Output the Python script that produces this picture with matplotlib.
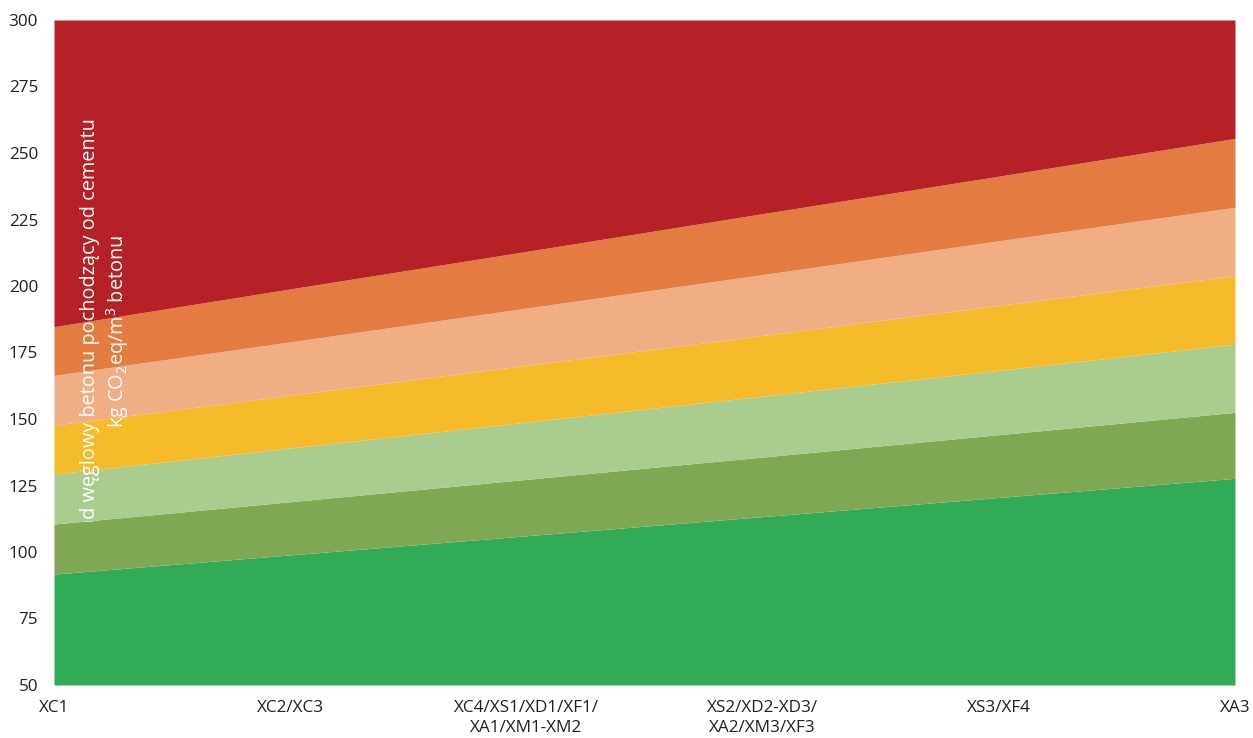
import matplotlib
matplotlib.use("Agg")
import matplotlib.pyplot as plt
from matplotlib.transforms import Bbox

plt.rcParams['font.family'] = ['Open Sans', 'DejaVu Sans']
plt.rcParams['mathtext.fontset'] = 'custom'
plt.rcParams['mathtext.rm'] = 'Open Sans'
plt.rcParams['mathtext.it'] = 'Open Sans'

categories = ["XC1", "XC2/XC3", "XC4/XS1/XD1/XF1/\nXA1/XM1-XM2",
              "XS2/XD2-XD3/\nXA2/XM3/XF3", "XS3/XF4", "XA3"]

# upper boundary of each band (kg CO2eq/m3)
band_green      = [91.7, 98.9, 106.1, 113.3, 120.5, 127.7]
band_darkgreen  = [110.5, 118.9, 127.3, 135.7, 144.1, 152.5]
band_lightgreen = [129.3, 139.1, 148.8, 158.6, 168.3, 178.1]
band_yellow     = [147.7, 158.9, 170.2, 181.4, 192.7, 203.9]
band_lightorange = [166.4, 179.0, 191.7, 204.3, 217.0, 229.6]
band_orange     = [184.7, 198.9, 213.0, 227.2, 241.3, 255.5]
band_red        = [300, 300, 300, 300, 300, 300]

y_min, y_max = 50, 300
y_ticks = [50, 75, 100, 125, 150, 175, 200, 225, 250, 275, 300]

colors = ["#32AB57", "#7EA853", "#AACD8F", "#F5BB2A", "#EFAE84", "#E37C40", "#B52127"]
bands = [band_green, band_darkgreen, band_lightgreen, band_yellow,
         band_lightorange, band_orange, band_red]

fig = plt.figure(figsize=(12.53, 7.38), dpi=100)
ax = fig.add_axes([54/1253, 53/738, 1181/1253, 665/738])

x = list(range(len(categories)))
lower = [y_min] * len(x)
for top, c in zip(bands, colors):
    ax.fill_between(x, lower, top, color=c, linewidth=0)
    lower = top

ax.set_xlim(0, len(x) - 1)
ax.set_ylim(y_min, y_max)
ax.set_xticks(x)
ax.set_xticklabels(categories, fontsize=12.3, color="#231F20", linespacing=1.3)
ax.set_yticks(y_ticks)
ax.set_yticklabels([str(t) for t in y_ticks], fontsize=12.3, color="#231F20")
ax.tick_params(length=0, pad=11.5, axis='y')
ax.tick_params(length=0, pad=11, axis='x')
for s in ax.spines.values():
    s.set_visible(False)

clip = Bbox.from_extents(54, 738 - 522, 1235, 738 - 20)
t1 = ax.text(0.0288, 0.853, "Ślad węglowy betonu pochodzący od cementu",
             transform=ax.transAxes, rotation=90, ha='center', va='top',
             color='white', fontsize=14.3)
t1.set_clip_box(clip)
t1.set_clip_on(True)
ax.text(0.0535, 0.531, r"kg CO$_2$eq/m$^3$ betonu",
        transform=ax.transAxes, rotation=90, ha='center', va='center',
        color='white', fontsize=14.3)

fig.savefig("out.png", dpi=100)
